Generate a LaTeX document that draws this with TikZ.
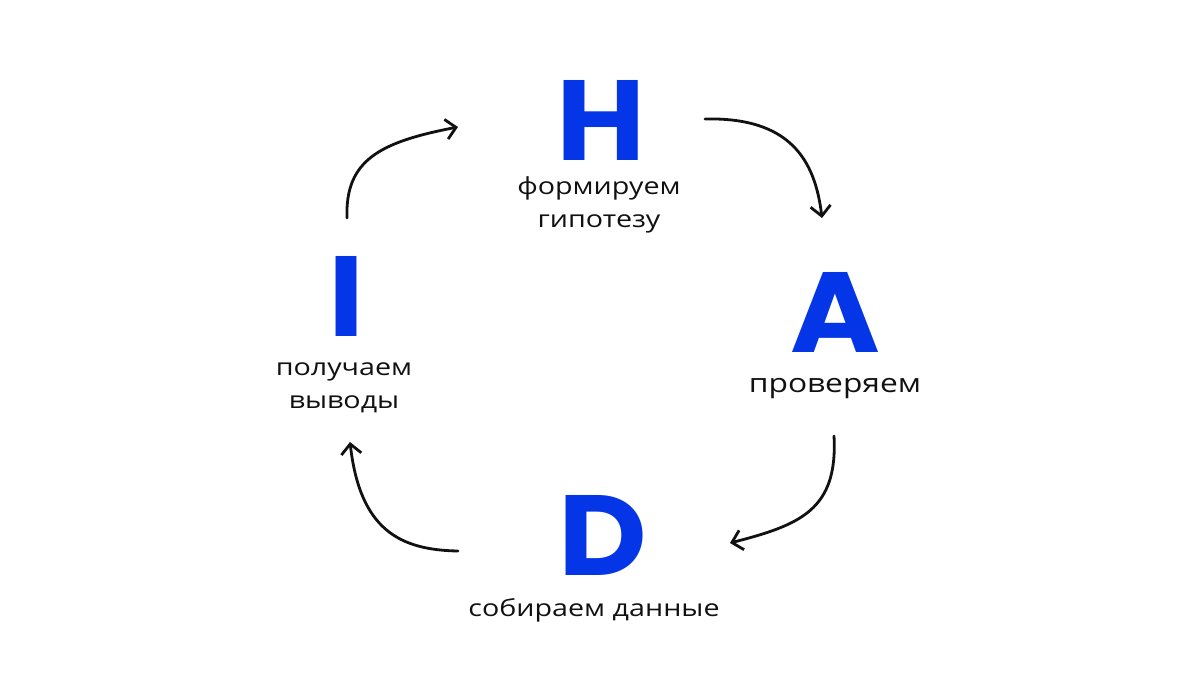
\documentclass[tikz,border=0pt]{standalone}
\usepackage{fontspec}
\usetikzlibrary{arrows.meta}
\newfontfamily\letterfont[FakeStretch=1.07]{Poppins}
\newfontfamily\labelfont[FakeStretch=1.22]{Open Sans}
\definecolor{hadiblue}{RGB}{4,54,232}
\definecolor{ink}{RGB}{17,17,17}
\newcommand{\twolines}[2]{\begin{tabular}[t]{@{}c@{}}#1\\#2\end{tabular}}
\tikzset{
  bigletter/.style={anchor=base, inner sep=0pt, text=hadiblue,
    font=\letterfont\bfseries\fontsize{114}{114}\selectfont},
  caption/.style={anchor=base, inner sep=0pt, text=ink,
    font=\labelfont\fontsize{23.5}{33}\selectfont},
  cyclearrow/.style={line width=2.8pt, line cap=round, ink,
    -{Straight Barb[length=10pt,width=20pt,line width=2.8pt]}}
}
\begin{document}
\begin{tikzpicture}[x=1pt,y=-1pt]
\useasboundingbox (0,0) rectangle (1200,675);
\fill[white] (0,0) rectangle (1200,675);
% letters
\node[bigletter] (H) at (601,160) {H};
\node[bigletter] (A) at (835,352) {A};
\node[bigletter] (D) at (603,575) {D};
\node[bigletter] (I) at (346,336) {I};
% captions
\node[caption] (Hcap) at (599,194) {\twolines{формируем}{гипотезу}};
\node[caption, font=\labelfont\fontsize{26}{33}\selectfont] (Acap) at (835,392) {проверяем};
\node[caption] (Dcap) at (594,616) {собираем данные};
\node[caption] (Icap) at (344,375) {\twolines{получаем}{выводы}};
% arrow end points
\coordinate (i1) at (347,218);
\coordinate (h1) at (458,127);
\coordinate (h2) at (705,119);
\coordinate (a1) at (822,218);
\coordinate (a2) at (834,436);
\coordinate (d1) at (730,543);
\coordinate (d2) at (458,551);
\coordinate (i2) at (350,442);
% arrows
\draw[cyclearrow] (i1) .. controls (345,160) and (380,142) .. (h1);
\draw[cyclearrow] (h2) .. controls (790,117) and (815,160) .. (a1);
\draw[cyclearrow] (a2) .. controls (838,510) and (800,525) .. (d1);
\draw[cyclearrow] (d2) .. controls (400,550) and (360,530) .. (i2);
\end{tikzpicture}
\end{document}
